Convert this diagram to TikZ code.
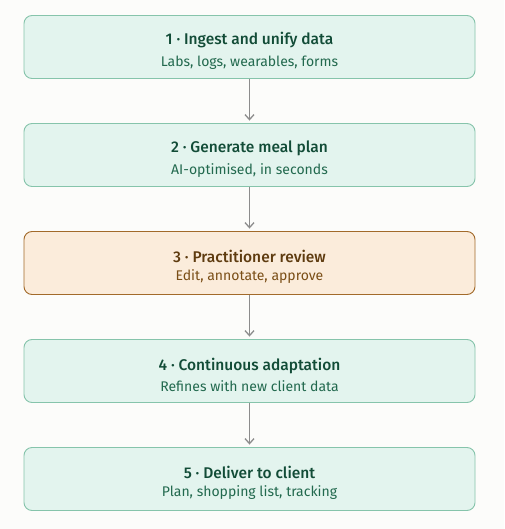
\documentclass[tikz,border=0pt]{standalone}
\usepackage{fontspec}
\setmainfont{Fira Sans}[BoldFont={Fira Sans Medium}]
\usetikzlibrary{arrows.meta}

\definecolor{pagebg}{HTML}{FCFCFA}
\definecolor{greenfill}{HTML}{E3F4EE}
\definecolor{greenline}{HTML}{86C4AB}
\definecolor{greentitle}{HTML}{124C37}
\definecolor{greentext}{HTML}{22694E}
\definecolor{amberfill}{HTML}{FBECDB}
\definecolor{amberline}{HTML}{A26A2A}
\definecolor{ambertitle}{HTML}{5E3B0F}
\definecolor{ambertext}{HTML}{7A4E16}
\definecolor{arrowgray}{HTML}{8C8C8C}

\newcommand{\steptext}[2]{{\fontsize{15.5}{18}\selectfont\bfseries\rule{0pt}{20pt}#1}\\[6.5pt]{\fontsize{14}{16}\selectfont #2}}

\begin{document}
\begin{tikzpicture}[x=1pt, y=-1pt,
                stage/.style={draw=greenline, fill=greenfill, text=greentitle, line width=0.9pt,
                    rounded corners=8pt, minimum width=451pt, minimum height=63pt,
                    align=center, inner sep=0},
                review/.style={stage, draw=amberline, fill=amberfill, text=ambertitle},
                flow/.style={draw=arrowgray, line width=1.3pt, -{Straight Barb[length=5pt, width=9pt]}, shorten >=2.5pt}]
            \fill [pagebg] (0,0) rectangle (504,529);
            \useasboundingbox (0,0) rectangle (504,529);

            \node [stage]  (ingest)   at (249.5, 47) {\steptext{1 · Ingest and unify data}{\color{greentext}Labs, logs, wearables, forms}};
            \node [stage]  (generate) at (249.5,155) {\steptext{2 · Generate meal plan}{\color{greentext}AI-optimised, in seconds}};
            \node [review] (review)   at (249.5,263) {\steptext{3 · Practitioner review}{\color{ambertext}Edit, annotate, approve}};
            \node [stage]  (adapt)    at (249.5,371) {\steptext{4 · Continuous adaptation}{\color{greentext}Refines with new client data}};
            \node [stage]  (deliver)  at (249.5,479) {\steptext{5 · Deliver to client}{\color{greentext}Plan, shopping list, tracking}};

            \path (ingest)   edge [flow] (generate);
            \path (generate) edge [flow] (review);
            \path (review)   edge [flow] (adapt);
            \path (adapt)    edge [flow] (deliver);
        \end{tikzpicture}
\end{document}
